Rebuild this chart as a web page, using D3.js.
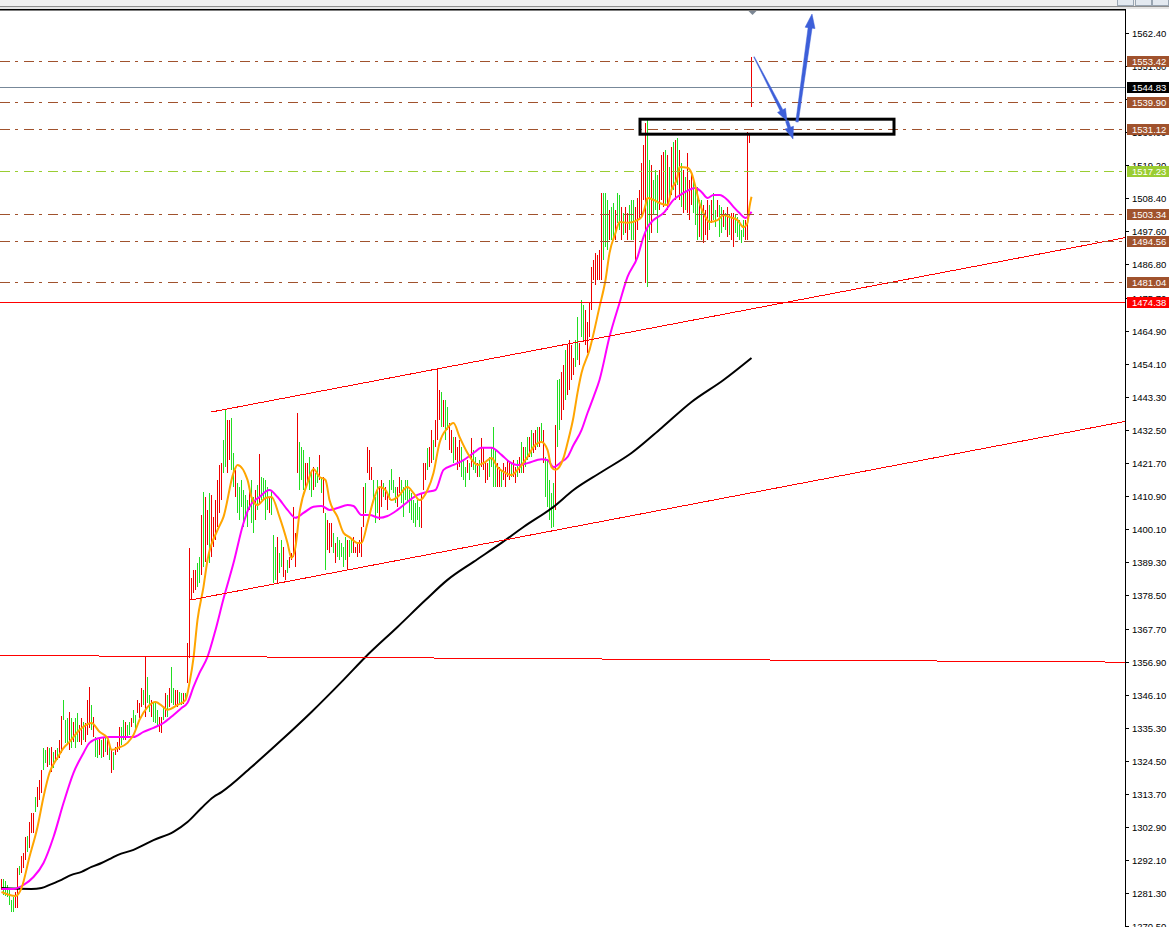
<!DOCTYPE html>
<html><head><meta charset="utf-8">
<script src="https://cdn.jsdelivr.net/npm/d3@7/dist/d3.min.js"></script>
<style>html,body{margin:0;padding:0;background:#fff;overflow:hidden}svg{display:block}</style>
</head><body>
<svg id="c" width="1169" height="927"></svg>
<script>
// ---------- DATA ----------
const barHigh = [
1285.8,1285.8,1285.2,1283.9,1282.2,1278.9,1279.9,1281.6,1289.4,1290.0,
1293.3,1294.3,1299.5,1299.8,1304.4,1307.3,1307.3,1312.6,1315.9,1318.2,
1321.4,1328.6,1328.0,1328.9,1328.6,1328.9,1327.3,1328.0,1328.6,1331.2,
1339.1,1344.3,1337.8,1338.4,1340.4,1338.4,1337.1,1338.4,1340.1,1336.2,
1338.4,1337.1,1336.8,1344.3,1348.6,1342.7,1338.8,1332.2,1331.2,1331.9,
1331.2,1332.2,1331.9,1331.2,1329.6,1328.0,1327.3,1328.9,1330.6,1335.5,
1335.5,1337.8,1337.1,1336.2,1337.1,1338.4,1341.1,1339.4,1344.3,1343.3,
1348.2,1347.6,1358.7,1351.8,1346.0,1344.3,1343.3,1343.7,1341.1,1338.8,
1338.8,1342.0,1346.6,1346.0,1348.2,1355.1,1348.2,1347.6,1347.6,1346.9,
1346.6,1346.6,1346.6,1363.0,1394.1,1384.2,1386.9,1386.9,1389.2,1391.1,
1404.8,1412.4,1410.7,1406.5,1412.0,1411.4,1404.2,1409.7,1416.3,1421.2,
1421.8,1429.4,1439.2,1435.9,1435.9,1436.6,1425.1,1419.6,1415.3,1414.0,
1416.3,1413.0,1411.4,1409.7,1413.0,1416.3,1410.7,1413.0,1414.7,1424.8,
1417.3,1416.9,1416.3,1414.0,1410.7,1413.0,1398.3,1394.4,1397.6,1392.4,
1396.7,1394.4,1386.9,1390.1,1391.1,1392.4,1407.5,1399.0,1438.2,1428.7,
1427.1,1426.1,1421.8,1421.8,1423.8,1419.6,1420.5,1418.6,1420.5,1424.5,
1417.3,1417.3,1405.5,1403.2,1402.2,1402.2,1399.0,1395.7,1397.6,1396.7,
1395.7,1394.4,1397.6,1396.7,1396.7,1396.7,1397.6,1394.4,1395.7,1396.7,
1400.9,1414.0,1415.3,1427.1,1426.1,1420.5,1416.3,1410.7,1416.3,1414.0,
1416.3,1415.3,1414.0,1412.0,1416.3,1419.9,1416.3,1414.0,1414.0,1417.3,
1416.3,1414.0,1416.3,1416.3,1413.0,1412.0,1409.7,1408.8,1409.7,1407.5,
1412.0,1421.8,1421.8,1426.8,1427.1,1432.6,1429.4,1435.9,1452.9,1445.7,
1445.1,1442.5,1442.5,1440.2,1434.9,1432.6,1430.4,1430.4,1427.1,1429.4,
1427.1,1422.8,1420.5,1422.8,1421.8,1430.0,1426.1,1423.8,1421.8,1422.8,
1430.0,1427.1,1421.8,1421.8,1423.8,1427.1,1433.6,1426.1,1421.8,1420.5,
1419.6,1421.8,1420.5,1422.8,1421.8,1421.8,1422.8,1420.5,1422.8,1423.8,
1428.7,1427.1,1427.1,1430.4,1430.4,1432.6,1431.7,1432.6,1433.6,1433.6,
1434.9,1432.6,1423.8,1422.8,1416.3,1412.0,1415.3,1434.3,1449.0,1449.3,
1451.6,1453.9,1458.8,1460.5,1462.1,1460.5,1456.2,1462.1,1469.6,1461.1,
1475.2,1473.5,1471.9,1468.0,1474.2,1486.0,1488.3,1490.5,1489.9,1491.5,
1510.2,1510.2,1510.2,1507.9,1504.6,1505.6,1506.9,1504.6,1510.2,1509.5,
1505.6,1503.6,1505.6,1503.6,1506.2,1507.9,1507.9,1505.6,1508.5,1511.2,
1520.0,1525.9,1533.1,1534.7,1521.0,1519.3,1514.4,1517.7,1516.1,1517.7,
1522.6,1523.6,1524.2,1522.6,1518.7,1525.2,1526.9,1527.5,1528.2,1524.2,
1520.0,1517.7,1515.4,1523.3,1514.4,1516.7,1515.4,1512.8,1512.1,1507.9,
1507.9,1506.2,1504.6,1507.9,1506.2,1507.9,1510.2,1504.6,1507.9,1506.2,
1505.6,1504.6,1503.6,1505.6,1503.0,1503.6,1503.6,1503.0,1502.3,1501.3,
1498.1,1501.3,1501.3,1530.1,1529.8,1554.5];

const barLow = [
1282.2,1280.6,1280.2,1279.9,1277.3,1275.0,1275.0,1276.3,1276.3,1287.1,
1287.7,1289.4,1292.0,1294.6,1295.9,1300.8,1300.8,1307.7,1309.3,1311.6,
1313.9,1321.4,1323.7,1322.4,1323.1,1320.8,1322.1,1324.1,1324.7,1325.4,
1327.0,1337.8,1330.3,1329.6,1328.0,1328.6,1330.6,1328.6,1330.6,1330.6,
1329.6,1331.2,1330.6,1332.9,1335.2,1334.5,1332.2,1325.7,1325.4,1326.3,
1325.4,1325.7,1327.3,1326.3,1324.7,1320.5,1321.4,1326.3,1327.3,1328.0,
1329.6,1331.2,1331.2,1331.9,1332.9,1335.5,1336.8,1334.5,1340.1,1338.4,
1342.0,1342.7,1338.8,1343.4,1340.4,1338.8,1337.1,1336.8,1335.5,1333.9,
1333.5,1337.8,1338.8,1338.8,1342.0,1343.4,1342.7,1342.7,1342.0,1343.4,
1342.7,1343.0,1344.3,1349.9,1358.1,1377.0,1379.3,1380.3,1381.3,1382.6,
1385.2,1387.8,1389.5,1395.0,1389.2,1391.1,1394.4,1396.7,1400.9,1405.5,
1409.7,1418.6,1420.5,1418.6,1422.8,1419.6,1414.0,1410.7,1405.5,1403.2,
1407.5,1400.9,1404.8,1400.9,1406.5,1402.2,1399.0,1403.2,1406.5,1408.8,
1409.7,1409.7,1403.2,1406.5,1405.5,1404.8,1382.6,1383.6,1382.6,1385.9,
1387.8,1384.6,1383.6,1385.9,1387.5,1390.1,1391.1,1387.8,1418.6,1413.0,
1416.3,1413.0,1414.0,1415.3,1413.0,1410.7,1413.0,1414.0,1415.3,1416.3,
1412.0,1405.5,1386.9,1393.4,1392.4,1394.4,1392.4,1389.2,1391.1,1390.1,
1391.1,1387.8,1390.1,1386.9,1391.1,1392.4,1392.4,1392.4,1391.1,1392.4,
1391.1,1400.9,1405.5,1418.6,1416.3,1416.3,1409.7,1402.2,1405.5,1403.2,
1407.5,1410.7,1409.7,1406.5,1409.7,1413.0,1412.0,1408.8,1407.5,1412.0,
1408.8,1404.2,1409.7,1408.8,1405.5,1403.2,1402.2,1400.9,1403.2,1400.9,
1400.6,1413.0,1416.3,1419.6,1420.5,1421.8,1422.8,1427.1,1429.4,1435.9,
1433.6,1433.6,1429.4,1432.6,1426.1,1425.1,1421.8,1422.8,1419.6,1420.5,
1417.3,1416.3,1414.0,1418.6,1416.3,1420.5,1419.6,1418.6,1417.3,1417.3,
1420.5,1419.6,1415.3,1416.3,1417.3,1420.5,1414.0,1414.0,1414.0,1414.0,
1414.0,1416.3,1414.0,1417.3,1416.3,1417.3,1417.3,1415.3,1417.3,1418.6,
1418.6,1418.6,1420.5,1422.8,1423.8,1423.8,1425.1,1426.1,1427.1,1427.1,
1428.4,1421.8,1410.7,1407.5,1403.2,1400.6,1400.9,1406.5,1427.1,1432.6,
1435.9,1439.2,1442.5,1444.1,1445.7,1449.0,1450.6,1453.3,1455.5,1453.9,
1463.1,1462.1,1460.5,1457.8,1463.1,1471.9,1481.7,1480.1,1481.7,1481.7,
1481.7,1488.3,1492.5,1491.5,1494.8,1494.8,1494.8,1494.8,1500.4,1498.1,
1494.8,1496.4,1497.1,1494.8,1498.1,1494.8,1494.8,1487.3,1498.1,1501.3,
1502.3,1507.9,1480.7,1479.4,1494.8,1497.1,1503.0,1504.6,1497.1,1504.6,
1507.9,1505.6,1506.2,1504.6,1507.9,1509.5,1511.2,1507.9,1512.8,1507.9,
1505.6,1503.6,1504.6,1503.6,1501.3,1506.2,1503.6,1499.7,1494.8,1495.8,
1494.8,1493.8,1496.4,1494.8,1498.1,1500.4,1501.3,1499.0,1502.3,1495.8,
1497.1,1499.0,1498.1,1495.8,1496.4,1494.8,1492.5,1497.1,1495.8,1494.8,
1493.8,1495.8,1494.8,1494.8,1526.5,1538.3];

// bar direction: g = up bar, r = down bar
const barDir = "rggggggrrg" + "rrrgrrrgrr" + "rggrgrgrgr" + "rgggrgrggr" + "rgrrrgrggr" +
  "grgrgrgrrr" + "ggrggrggrr" + "rgrggrgggr" + "rgrgrggrrg" + "grgrrrrrgg" +
  "rgrrgrrrrr" + "rggrrggrgg" + "ggggrggrgr" + "ggggrgggrg" + "grrgrrrrrg" +
  "ggrrggrggr" + "grgrrrgrgg" + "gggrggrrrr" + "rrgrrrgggr" + "rgrrggggrr" +
  "gggggggggg" + "rrrgrrgrrr" + "grggrrgrrr" + "gggrgrggrg" + "rrrrggggrr" +
  "grrrrgrrgr" + "grggrgrrgr" + "grgggggrgg" + "rrgrrrrggr" + "ggrrrrrrrr" +
  "rgggrggrgg" + "rgrrgggrrr" + "rrrggrgggr" + "rrgrgrgrgr" + "grgrrrgggr" +
  "grrrgrggrg" + "grgrgrrggg" + "ggrrrr";

// fast moving average (orange): bar index / value
const maFastIdx = [0,7,10,14,18,21,24,28,31,34,39,45,49,53,55,58,63,66,69,73,77,81,83,88,92,94,96,98,101,103,108,111,116,118,123,125,128,132,135,139,143,145,147,149,153,156,159,162,164,168,171,174,178,180,183,186,189,192,195,198,203,206,209,213,216,219,223,226,229,233,236,238,242,245,248,252,255,258,263,266,270,273,275,277,281,283,286,288,290,294,299,302,304,307,309,313,318,320,322,323,326,329,333,335,338,339,343,345,347,349,352,354,358,361,364,368,371,373,374,375];
const maFastVal = [1281.5,1280.2,1282.8,1293.0,1302.8,1312.6,1320.5,1325.4,1328.6,1330.6,1334.5,1336.8,1333.9,1331.9,1328.0,1328.6,1330.3,1332.9,1337.8,1342.0,1343.7,1342.0,1341.1,1342.7,1344.3,1349.9,1358.1,1370.5,1381.3,1390.1,1399.9,1404.2,1418.6,1421.2,1416.3,1410.7,1408.1,1410.4,1410.7,1404.2,1395.7,1390.8,1394.4,1405.5,1415.3,1419.9,1417.3,1416.3,1409.7,1404.2,1399.0,1397.6,1395.7,1395.7,1402.2,1409.7,1414.0,1413.0,1409.7,1410.7,1414.0,1412.0,1409.7,1413.0,1418.6,1428.4,1433.3,1434.9,1430.4,1425.1,1422.2,1421.2,1422.2,1423.5,1420.5,1418.6,1417.9,1419.6,1423.8,1427.1,1428.7,1426.1,1420.5,1419.6,1423.5,1428.4,1436.9,1444.8,1451.3,1458.8,1472.9,1481.7,1490.5,1497.1,1500.7,1500.4,1501.3,1502.3,1506.2,1508.5,1507.9,1506.9,1506.2,1511.2,1515.4,1518.7,1518.4,1516.7,1512.1,1506.9,1502.3,1500.7,1501.3,1503.0,1502.3,1501.3,1499.0,1500.4,1505.6,1508.9];

// medium moving average (magenta)
const maMidIdx = [0,6,11,16,21,26,31,36,41,44,49,54,61,66,71,76,81,86,90,93,96,99,103,107,111,116,121,124,129,134,138,143,147,151,156,160,164,168,173,176,180,184,189,193,198,203,208,213,217,221,226,231,236,240,245,250,254,258,263,270,273,276,280,283,286,290,293,296,299,304,309,313,318,321,323,326,331,336,341,347,350,353,356,359,363,366,369,372,373,375];
const maMidVal = [1282.5,1282.5,1283.8,1286.4,1291.0,1299.5,1310.6,1320.5,1327.0,1330.3,1331.9,1332.2,1332.2,1332.2,1333.9,1335.2,1336.8,1339.4,1341.7,1343.4,1348.6,1353.2,1358.4,1367.2,1377.4,1389.1,1402.2,1407.5,1410.7,1413.0,1410.7,1406.5,1403.9,1405.5,1407.5,1407.8,1406.5,1407.1,1408.1,1407.8,1404.8,1404.8,1403.9,1404.5,1406.5,1409.1,1411.4,1412.4,1413.0,1419.6,1421.2,1422.8,1425.1,1426.8,1426.8,1424.5,1422.2,1421.2,1421.8,1423.1,1422.8,1420.5,1422.2,1423.8,1427.7,1432.6,1438.2,1443.4,1449.0,1463.1,1474.2,1482.7,1489.2,1495.8,1499.0,1501.3,1503.6,1507.9,1510.2,1511.8,1510.5,1508.5,1509.5,1509.5,1507.9,1505.6,1503.6,1502.0,1502.3,1504.0];

// slow moving average (black)
const maSlowIdx = [0,15,20,25,30,35,40,45,50,55,58,66,76,86,93,100,106,110,125,140,155,171,182,198,212,223,236,250,261,276,286,300,315,330,345,361,375];
const maSlowVal = [1282.8,1282.5,1282.8,1284.1,1285.5,1287.1,1288.1,1289.7,1291.0,1292.6,1293.6,1295.3,1298.5,1301.2,1304.4,1309.0,1312.6,1314.2,1322.4,1331.2,1340.4,1350.9,1358.4,1368.2,1377.0,1383.6,1389.5,1395.7,1400.9,1407.5,1413.0,1418.9,1425.1,1433.3,1441.8,1449.0,1456.2];

// price axis tick labels
const tickLabels = ["1562.40","1551.60","1540.80","1530.00","1519.20","1508.40","1497.60","1486.80","1475.70","1464.90","1454.10","1443.30","1432.50","1421.70","1410.90","1400.10","1389.30","1378.50","1367.70","1356.90","1346.10","1335.30","1324.50","1313.70","1302.90","1292.10","1281.30","1270.50"];

// horizontal price levels
const levelValues = [1553.42, 1544.83, 1539.90, 1531.12, 1517.23, 1503.34, 1494.56, 1481.04, 1474.38];
const levelKinds  = ["target","bid","target","target","pivot","target","target","target","support"];

// trend lines: start index/price, end index/price
const trendStartIdx = [105, 94.5, -0.5];
const trendStartPx  = [1438.5, 1377.0, 1358.9];
const trendEndIdx   = [562.5, 562.5, 562.5];
const trendEndPx    = [1495.6, 1435.5, 1356.7];

// rectangle object
const boxIdx = [319.5, 446.5];
const boxPx  = [1534.3, 1529.4];

// arrow objects (bar index / price)
const arrowFromIdx = [376.5, 393, 398];
const arrowFromPx  = [1554.7, 1533.7, 1533.4];
const arrowToIdx   = [393, 396, 405.5];
const arrowToPx    = [1533.7, 1527.8, 1568.7];

const shiftMarkIdx = 375.5;

// ---------- DRAW ----------
const W = 1169, H = 927, axisX = 1126, plotTop = 10;
const svg = d3.select("#c");
const x = d3.scaleLinear().domain([0, 562.5]).range([1, axisX]);
const y = d3.scaleLinear().domain([1270.06, 1570.02]).range([H, plotTop]);

svg.append("rect").attr("width", W).attr("height", H).attr("fill", "#fff");

svg.append("clipPath").attr("id", "clip").append("rect")
  .attr("x", 0).attr("y", plotTop).attr("width", axisX).attr("height", H - plotTop);
const g = svg.append("g").attr("clip-path", "url(#clip)");

// bars
const bars = barHigh.map((h, i) => ({i, h, l: barLow[i], d: barDir[i]}));
g.append("g").attr("shape-rendering", "crispEdges").selectAll("line").data(bars).join("line")
  .attr("x1", d => Math.round(x(d.i)) + 0.5).attr("x2", d => Math.round(x(d.i)) + 0.5)
  .attr("y1", d => y(d.h)).attr("y2", d => y(d.l))
  .attr("stroke", d => d.d === "g" ? "#22dd22" : "#ee0000").attr("stroke-width", 1);

// moving averages
const line = d3.line().x(d => x(d[0]) + 0.5).y(d => y(d[1])).curve(d3.curveMonotoneX);
const mas = [
  {idx: maSlowIdx, val: maSlowVal, color: "#000000"},
  {idx: maMidIdx, val: maMidVal, color: "#ff00ff"},
  {idx: maFastIdx, val: maFastVal, color: "#ffa500"}
];
mas.forEach(m => {
  g.append("path").attr("d", line(m.idx.map((v, k) => [v, m.val[k]])))
    .attr("fill", "none").attr("stroke", m.color).attr("stroke-width", 2)
    .attr("stroke-linejoin", "round");
});

// trend lines
const trends = trendStartIdx.map((v, k) => ({a: v, pa: trendStartPx[k], b: trendEndIdx[k], pb: trendEndPx[k]}));
g.append("g").attr("shape-rendering", "crispEdges").selectAll("line").data(trends).join("line")
  .attr("x1", d => x(d.a)).attr("y1", d => y(d.pa))
  .attr("x2", d => x(d.b)).attr("y2", d => y(d.pb))
  .attr("stroke", "#ff0000").attr("stroke-width", 1);

// levels
const levelStyle = {
  target: {stroke: "#a0522d", dash: "10,5,3,6", bg: "#a0522d", fg: "#ffffff"},
  bid:    {stroke: "#778899", dash: null, bg: "#000000", fg: "#ffffff"},
  pivot:  {stroke: "#9acd32", dash: "10,5,3,6", bg: "#9acd32", fg: "#ffffff"},
  support:{stroke: "#ff0000", dash: null, bg: "#ff0000", fg: "#ffffff"}
};
const levels = levelValues.map((v, k) => ({v, s: levelStyle[levelKinds[k]]}));
g.append("g").attr("shape-rendering", "crispEdges").selectAll("line").data(levels).join("line")
  .attr("x1", 0).attr("x2", axisX)
  .attr("y1", d => Math.round(y(d.v)) + 0.5).attr("y2", d => Math.round(y(d.v)) + 0.5)
  .attr("stroke", d => d.s.stroke).attr("stroke-width", 1)
  .attr("stroke-dasharray", d => d.s.dash);

// rectangle
g.append("rect")
  .attr("x", x(boxIdx[0])).attr("y", y(boxPx[0]))
  .attr("width", x(boxIdx[1]) - x(boxIdx[0])).attr("height", y(boxPx[1]) - y(boxPx[0]))
  .attr("fill", "none").attr("stroke", "#000").attr("stroke-width", 3);

// arrows (tapered shafts with heads)
const arrowW0 = [0.6, 3, 2.5], arrowW1 = [3, 3, 4], headL = [12, 12, 14], headW = [9, 9, 10];
arrowFromIdx.forEach((fi, k) => {
  const x0 = x(fi), y0 = y(arrowFromPx[k]), x1 = x(arrowToIdx[k]), y1 = y(arrowToPx[k]);
  const dx = x1 - x0, dy = y1 - y0, len = Math.hypot(dx, dy);
  const ux = dx / len, uy = dy / len, nx = -uy, ny = ux;
  const bx = x1 - ux * headL[k], by = y1 - uy * headL[k];
  const w0 = arrowW0[k] / 2, w1 = arrowW1[k] / 2, hw = headW[k] / 2;
  const pts = [
    [x0 + nx * w0, y0 + ny * w0], [bx + nx * w1, by + ny * w1], [bx + nx * hw, by + ny * hw],
    [x1, y1], [bx - nx * hw, by - ny * hw], [bx - nx * w1, by - ny * w1], [x0 - nx * w0, y0 - ny * w0]
  ];
  g.append("path").attr("d", "M" + pts.map(p => p.join(",")).join("L") + "Z")
    .attr("fill", "#3d5fd9").attr("stroke", "#3d5fd9").attr("stroke-width", 0.5);
});

// chart shift marker
const sx = Math.round(x(shiftMarkIdx)) + 0.5;
svg.append("path").attr("d", `M${sx - 4},${plotTop + 1}L${sx + 4},${plotTop + 1}L${sx},${plotTop + 5}Z`).attr("fill", "#7c8794");

// ---------- AXIS ----------
svg.append("rect").attr("x", axisX - 1).attr("y", plotTop).attr("width", 1).attr("height", H - plotTop).attr("fill", "#000");
const ax = svg.append("g").attr("font-family", "'Liberation Sans', Arial, sans-serif").attr("font-size", "9.5px");
tickLabels.forEach(t => {
  const yy = Math.round(y(+t)) + 0.5;
  ax.append("line").attr("x1", axisX).attr("x2", axisX + 3).attr("y1", yy).attr("y2", yy)
    .attr("stroke", "#000").attr("shape-rendering", "crispEdges");
  ax.append("text").attr("x", 1132).attr("y", yy).attr("dy", "0.35em").attr("fill", "#000").text(t);
});
levels.forEach(d => {
  const yy = Math.round(y(d.v));
  ax.append("rect").attr("x", axisX + 1).attr("y", yy - 5).attr("width", W - axisX - 1).attr("height", 11)
    .attr("fill", d.s.bg);
  ax.append("text").attr("x", 1132).attr("y", yy + 0.5).attr("dy", "0.35em").attr("fill", d.s.fg).text(d.v.toFixed(2));
});

// ---------- TOP BAR ----------
svg.append("rect").attr("x", 0).attr("y", 0).attr("width", W).attr("height", 6).attr("fill", "#f0f0f0");
svg.append("rect").attr("x", 0).attr("y", 6).attr("width", W).attr("height", 1).attr("fill", "#8e8e8e");
svg.append("rect").attr("x", 0).attr("y", 7).attr("width", W).attr("height", 2).attr("fill", "#e4e4e4");
svg.append("rect").attr("x", 0).attr("y", 9).attr("width", axisX).attr("height", 1.5).attr("fill", "#000");
[1117, 1135, 1152].forEach(bx => {
  svg.append("rect").attr("x", bx + 0.5).attr("y", -1).attr("width", 16).attr("height", 6.5)
    .attr("fill", "#e3e9f0").attr("stroke", "#9aa6b3").attr("stroke-width", 1);
});
</script>
</body></html>
